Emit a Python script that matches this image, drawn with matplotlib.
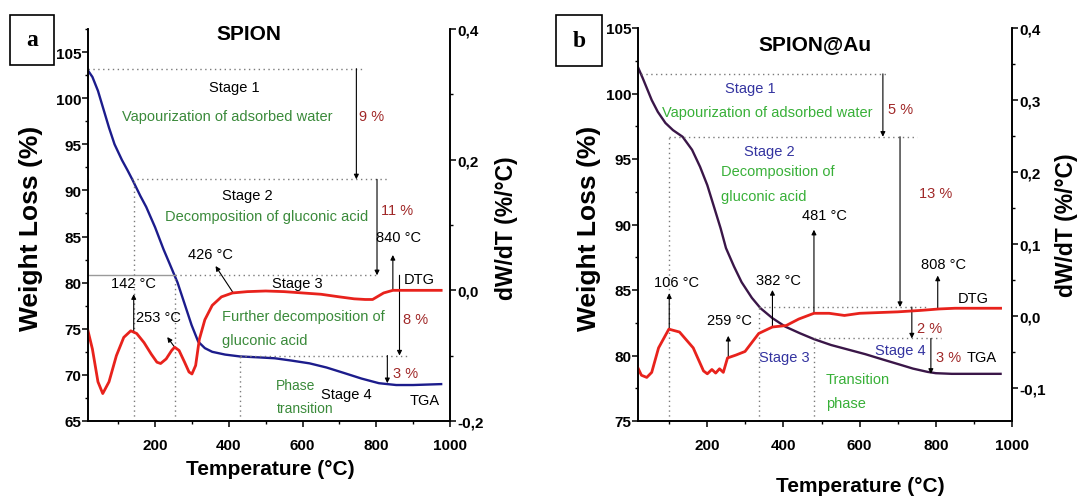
import matplotlib
matplotlib.use("Agg")
import matplotlib.pyplot as plt
import numpy as np
from matplotlib.ticker import MultipleLocator, FuncFormatter
from matplotlib.patches import Rectangle

NARROW = ["Liberation Sans Narrow", "Liberation Sans", "DejaVu Sans"]
WIDE = ["Liberation Sans", "DejaVu Sans"]
plt.rcParams["font.family"] = NARROW
plt.rcParams["font.weight"] = "bold"

# ---- panel a : SPION ----
tga_a_T = [18, 30, 45, 60, 75, 90, 110, 125, 138, 160, 176, 200, 223, 240, 261, 280, 299,
           317, 335, 355, 390, 430, 480, 525, 570, 619, 665, 713, 760, 807, 854, 900, 976]
tga_a_w = [103.0, 102.3, 100.8, 98.8, 96.8, 95.0, 93.3, 92.2, 91.2, 89.4, 88.2, 86.0, 83.6,
           82.0, 80.0, 77.7, 75.4, 73.6, 72.9, 72.5, 72.2, 72.0, 71.9, 71.8, 71.55, 71.25,
           70.8, 70.2, 69.6, 69.1, 68.9, 68.9, 69.0]
dtg_a_T = [18, 30, 45, 58, 75, 95, 115, 134, 150, 170, 190, 205, 215, 230, 245, 253, 265,
           280, 292, 300, 310, 320, 335, 355, 380, 410, 450, 500, 550, 600, 650, 700, 740,
           770, 790, 805, 820, 845, 900, 976]
dtg_a_r = [-0.062, -0.090, -0.140, -0.158, -0.140, -0.100, -0.072, -0.062, -0.066, -0.080,
           -0.098, -0.110, -0.112, -0.105, -0.092, -0.087, -0.092, -0.110, -0.125, -0.128,
           -0.115, -0.075, -0.045, -0.023, -0.010, -0.004, -0.002, -0.001, -0.002, -0.004,
           -0.006, -0.010, -0.013, -0.014, -0.014, -0.009, -0.004, 0.000, 0.000, 0.000]

# ---- panel b : SPION@Au ----
tga_b_T = [18, 30, 54, 70, 90, 110, 135, 160, 181, 200, 217, 235, 249, 270, 290, 317, 340,
           371, 405, 443, 480, 525, 570, 615, 660, 706, 740, 778, 800, 842, 900, 970]
tga_b_w = [102.0, 101.2, 99.5, 98.6, 97.75, 97.2, 96.7, 95.7, 94.4, 93.0, 91.4, 89.7, 88.2,
           86.8, 85.6, 84.4, 83.6, 82.85, 82.2, 81.7, 81.25, 80.8, 80.45, 80.1, 79.7, 79.3,
           79.0, 78.75, 78.65, 78.6, 78.6, 78.6]
dtg_b_T = [18, 27, 41, 54, 72, 99, 127, 163, 190, 200, 212, 222, 232, 242, 253, 275, 299,
           335, 371, 407, 440, 480, 520, 560, 600, 650, 700, 760, 808, 850, 900, 970]
dtg_b_r = [-0.072, -0.082, -0.085, -0.078, -0.044, -0.018, -0.022, -0.044, -0.076, -0.080,
           -0.074, -0.079, -0.073, -0.078, -0.058, -0.054, -0.049, -0.024, -0.015, -0.013,
           -0.004, 0.004, 0.004, 0.001, 0.004, 0.005, 0.006, 0.008, 0.010, 0.011, 0.011, 0.011]

RED = "#e8221c"
NAVY = "#1c1c8c"
PURPLE = "#3a1648"
GREEN_A = "#3a8a3a"
GREEN_B = "#38b038"
PCT = "#a02828"
STAGE_B = "#3434a0"
GRAY = "#7a7a7a"
DOT = (0, (1, 2.5))


def comma(v, pos):
    if abs(v) < 1e-9:
        v = 0.0
    return f"{v:.1f}".replace(".", ",")


def setup(rect, ylim, r_ylim, r_major, r_minor):
    ax = fig.add_axes(rect)
    ax2 = ax.twinx()
    ax.set_xlim(18, 1000)
    ax.set_ylim(*ylim)
    ax2.set_ylim(*r_ylim)
    ax.xaxis.set_major_locator(MultipleLocator(200))
    ax.xaxis.set_minor_locator(MultipleLocator(100))
    ax.yaxis.set_major_locator(MultipleLocator(5))
    ax.yaxis.set_minor_locator(MultipleLocator(2.5))
    ax2.yaxis.set_major_locator(MultipleLocator(r_major))
    ax2.yaxis.set_minor_locator(MultipleLocator(r_minor))
    ax2.yaxis.set_major_formatter(FuncFormatter(comma))
    for a in (ax, ax2):
        a.spines["top"].set_visible(False)
        for s in a.spines.values():
            s.set_linewidth(1.2)
        a.tick_params(which="major", length=4, width=1.1, labelsize=11, pad=1)
        a.tick_params(which="minor", length=2.5, width=1.0)
    ax.tick_params(axis="x", pad=8)
    return ax, ax2


def hdot(ax, y, x0, x1):
    ax.plot([x0, x1], [y, y], color=GRAY, lw=1.0, ls=DOT)


def vdot(ax, x, y0, y1):
    ax.plot([x, x], [y0, y1], color=GRAY, lw=1.0, ls=DOT)


def arrow(ax, x0, y0, x1, y1, c0=None):
    ax.annotate("", xy=(x1, y1), xytext=(x0, y0),
                textcoords=c0 if c0 is not None else "data",
                arrowprops=dict(arrowstyle="-|>", color="black", lw=0.8,
                                mutation_scale=7, shrinkA=0, shrinkB=0))


def txt(ax, x, y, s, color="black", ha="center", size=10.5):
    ax.text(x, y, s, color=color, ha=ha, va="center", fontsize=size,
            fontweight="normal")


fig = plt.figure(figsize=(10.81, 5.02), dpi=100)

# ================= panel a =================
ax, ax2 = setup([88 / 1081, 1 - 422 / 502, 362 / 1081, 392 / 502],
                (65, 107.5), (-0.2, 0.4), 0.2, 0.1)
ax.plot(tga_a_T, tga_a_w, color=NAVY, lw=1.7)
ax2.plot(dtg_a_T, dtg_a_r, color=RED, lw=2.0)

hdot(ax, 103.2, 18, 769)
hdot(ax, 91.2, 138, 830)
ax.plot([18, 253], [80.8, 80.8], color="#9a9a9a", lw=1.0)
hdot(ax, 80.8, 253, 805)
hdot(ax, 72.1, 430, 892)
vdot(ax, 142, 65, 91.2)
vdot(ax, 253, 65, 80.8)
vdot(ax, 430, 65, 72.1)

arrow(ax, 746, 103.2, 746, 91.2)
arrow(ax, 802, 91.2, 802, 80.8)
arrow(ax, 863, 80.8, 863, 72.1)
arrow(ax, 830, 72.1, 830, 69.1)

pts_a = [(142, 142, 78.75), (253, 233, 74.1), (412, 364, 81.8), (845, 845, 83.0)]
for T, xl, yl in pts_a:
    arrow(ax, T, float(np.interp(T, dtg_a_T, dtg_a_r)), xl, yl, c0=ax2.transData)

ax.text(454, 107.0, "SPION", ha="center", va="center", fontsize=15,
        fontweight="bold", family=WIDE)
txt(ax, 416, 101.2, "Stage 1")
txt(ax, 395, 98.1, "Vapourization of adsorbed water", GREEN_A)
txt(ax, 752, 98.1, "9 %", PCT, ha="left")
txt(ax, 449, 89.5, "Stage 2")
txt(ax, 503, 87.2, "Decomposition of gluconic acid", GREEN_A)
txt(ax, 812, 87.9, "11 %", PCT, ha="left")
txt(ax, 861, 85.0, "840 °C")
txt(ax, 141, 80.0, "142 °C")
txt(ax, 209, 76.25, "253 °C")
txt(ax, 350, 83.1, "426 °C")
txt(ax, 586, 80.0, "Stage 3")
txt(ax, 917, 80.4, "DTG")
txt(ax, 381, 76.4, "Further decomposition of", GREEN_A, ha="left")
txt(ax, 381, 73.75, "gluconic acid", GREEN_A, ha="left")
txt(ax, 873, 76.1, "8 %", PCT, ha="left")
txt(ax, 845, 70.2, "3 %", PCT, ha="left")
txt(ax, 529, 68.9, "Phase", GREEN_A, ha="left", size=10)
txt(ax, 529, 66.4, "transition", GREEN_A, ha="left", size=10)
txt(ax, 719, 67.9, "Stage 4")
txt(ax, 931, 67.3, "TGA")

# ================= panel b =================
bx, bx2 = setup([638 / 1081, 1 - 422 / 502, 374 / 1081, 393 / 502],
                (75, 105), (-0.1455, 0.4), 0.1, 0.05)
bx.plot(tga_b_T, tga_b_w, color=PURPLE, lw=1.7)
bx2.plot(dtg_b_T, dtg_b_r, color=RED, lw=2.0)

hdot(bx, 101.5, 27, 670)
hdot(bx, 96.7, 100, 751)
hdot(bx, 83.7, 335, 778)
hdot(bx, 81.3, 480, 814)
vdot(bx, 100, 75, 96.7)
vdot(bx, 335, 75, 83.7)
vdot(bx, 480, 75, 81.3)

arrow(bx, 661, 101.5, 661, 96.7)
arrow(bx, 706, 96.7, 706, 83.7)
arrow(bx, 737, 83.7, 737, 81.3)
arrow(bx, 787, 81.3, 787, 78.6)

pts_b = [(100, 100, 84.75), (255, 255, 81.5), (371, 371, 85.0), (480, 480, 89.6),
         (805, 805, 86.1)]
for T, xl, yl in pts_b:
    arrow(bx, T, float(np.interp(T, dtg_b_T, dtg_b_r)), xl, yl, c0=bx2.transData)

bx.text(484, 103.8, "SPION@Au", ha="center", va="center", fontsize=15,
        fontweight="bold", family=WIDE)
txt(bx, 312, 100.4, "Stage 1", STAGE_B)
txt(bx, 357, 98.6, "Vapourization of adsorbed water", GREEN_B)
txt(bx, 674, 98.8, "5 %", PCT, ha="left")
txt(bx, 362, 95.6, "Stage 2", STAGE_B)
txt(bx, 235, 94.1, "Decomposition of", GREEN_B, ha="left")
txt(bx, 235, 92.15, "gluconic acid", GREEN_B, ha="left")
txt(bx, 756, 92.4, "13 %", PCT, ha="left")
txt(bx, 507, 90.75, "481 °C")
txt(bx, 119, 85.6, "106 °C")
txt(bx, 258, 82.7, "259 °C")
txt(bx, 386, 85.75, "382 °C")
txt(bx, 821, 87.0, "808 °C")
txt(bx, 898, 84.4, "DTG")
txt(bx, 751, 82.1, "2 %", PCT, ha="left")
txt(bx, 403, 79.9, "Stage 3", STAGE_B)
txt(bx, 708, 80.4, "Stage 4", STAGE_B)
txt(bx, 801, 79.9, "3 %", PCT, ha="left")
txt(bx, 882, 79.9, "TGA", ha="left")
txt(bx, 511, 78.2, "Transition", GREEN_B, ha="left")
txt(bx, 511, 76.4, "phase", GREEN_B, ha="left")

# ---- axis titles & panel letters ----
for x, y in [(31, 228), (589, 228)]:
    fig.text(x / 1081, 1 - y / 502, "Weight Loss (%)", rotation=90, ha="center",
             va="center", fontsize=19, fontweight="bold", family=WIDE)
for x, y in [(506, 228), (1066, 225)]:
    fig.text(x / 1081, 1 - y / 502, "dW/dT (%/°C)", rotation=90, ha="center",
             va="center", fontsize=16.5, fontweight="bold", family=WIDE)
for x, y in [(270, 470), (860, 487)]:
    fig.text(x / 1081, 1 - y / 502, "Temperature (°C)", ha="center", va="center",
             fontsize=15, fontweight="bold", family=NARROW)

for (x0, x1, y0, y1), s in [((10, 54, 16, 66), "a"), ((556, 602, 16, 67), "b")]:
    fig.patches.append(Rectangle((x0 / 1081, 1 - y1 / 502), (x1 - x0) / 1081,
                                 (y1 - y0) / 502, transform=fig.transFigure,
                                 fill=False, ec="black", lw=1.2))
    fig.text((x0 + x1) / 2 / 1081, 1 - (y0 + y1) / 2 / 502, s, ha="center",
             va="center", fontsize=17, fontweight="bold", family="Liberation Serif")

fig.savefig("out.png", dpi=100)
